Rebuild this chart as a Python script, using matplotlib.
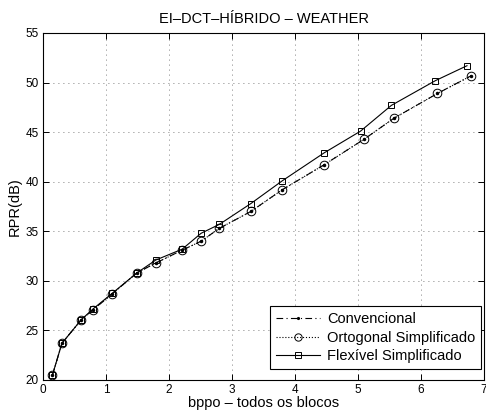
import matplotlib
matplotlib.use("Agg")
import matplotlib.pyplot as plt

plt.rcParams['font.family'] = ['Liberation Sans', 'DejaVu Sans']

x_conv = [0.15, 0.30, 0.61, 0.80, 1.10, 1.49, 1.79, 2.21, 2.51, 2.80, 3.30, 3.80, 4.46, 5.10, 5.57, 6.26, 6.80]
y_conv = [20.5, 23.7, 26.1, 27.1, 28.7, 30.8, 31.8, 33.1, 34.0, 35.3, 37.0, 39.2, 41.7, 44.3, 46.4, 48.9, 50.7]
x_orto = [0.15, 0.30, 0.61, 0.80, 1.10, 1.49, 1.79, 2.21, 2.51, 2.80, 3.30, 3.80, 4.46, 5.10, 5.57, 6.26, 6.80]
y_orto = [20.5, 23.7, 26.1, 27.1, 28.7, 30.8, 31.8, 33.1, 34.0, 35.3, 37.0, 39.2, 41.7, 44.3, 46.4, 48.9, 50.7]
x_flex = [0.15, 0.30, 0.61, 0.80, 1.10, 1.49, 1.79, 2.21, 2.51, 2.80, 3.30, 3.80, 4.46, 5.04, 5.53, 6.23, 6.73]
y_flex = [20.5, 23.7, 26.1, 27.2, 28.75, 30.8, 32.1, 33.2, 34.8, 35.7, 37.8, 40.1, 42.9, 45.1, 47.7, 50.2, 51.7]

labels = ['Convencional', 'Ortogonal Simplificado', 'Flexível Simplificado']
xticks = [0, 1, 2, 3, 4, 5, 6, 7]
yticks = [20, 25, 30, 35, 40, 45, 50, 55]

fig = plt.figure(figsize=(4.86, 4.17), dpi=100)
ax = fig.add_axes([43/486, 37/417, 441/486, 347/417])

ax.plot(x_conv, y_conv, linestyle=(0, (6, 3, 1, 3)), color='black', lw=0.8,
        marker='.', markersize=3, label=labels[0])
ax.plot(x_orto, y_orto, linestyle=':', color='black', lw=0.8,
        marker='o', markersize=6.2, markerfacecolor='none', markeredgewidth=0.7, label=labels[1])
ax.plot(x_flex, y_flex, linestyle='-', color='black', lw=0.8,
        marker='s', markersize=5.0, markerfacecolor='none', markeredgewidth=0.7, label=labels[2])

ax.set_xlim(0, 7)
ax.set_ylim(20, 55)
ax.set_xticks(xticks)
ax.set_yticks(yticks)
ax.tick_params(direction='in', top=True, right=True, labelsize=8.5, length=4, width=0.7, pad=3)
ax.grid(True, linestyle=(0, (1, 5)), color='#555555', lw=0.6)
for s in ax.spines.values():
    s.set_linewidth(0.8)

ax.set_title('EI\u2013DCT\u2013HÍBRIDO \u2013 WEATHER', fontsize=10.5, pad=7)
ax.set_xlabel('bppo \u2013 todos os blocos', fontsize=10.5, labelpad=0)
ax.set_ylabel('RPR(dB)', fontsize=10.5, labelpad=3)

leg = ax.legend(loc='lower right', bbox_to_anchor=(0.993, 0.032), fontsize=10.5,
                frameon=True, fancybox=False, edgecolor='black', framealpha=1,
                borderaxespad=0, handlelength=3.0, handletextpad=0.5,
                labelspacing=0.3, borderpad=0.4, markerscale=0.85)
leg.get_frame().set_linewidth(0.8)

fig.savefig('out.png', dpi=100)
